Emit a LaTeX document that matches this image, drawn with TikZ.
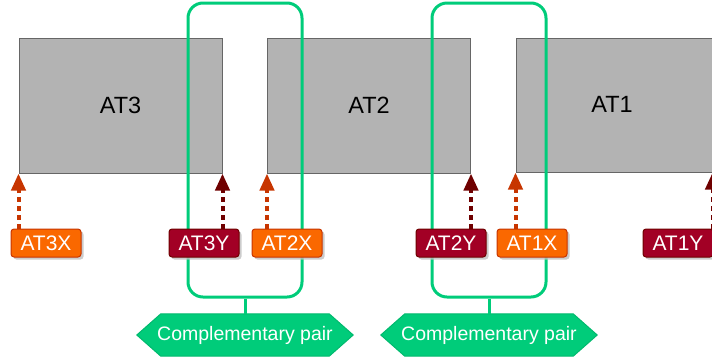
\documentclass[tikz,border=0pt]{standalone}
\usepackage{fontspec}
\setmainfont{Liberation Sans}
\usetikzlibrary{arrows.meta,shadows,backgrounds}
\definecolor{boxfill}{HTML}{B3B3B3}
\definecolor{boxline}{HTML}{666666}
\definecolor{orfill}{HTML}{FA6800}
\definecolor{orline}{HTML}{C73500}
\definecolor{rdfill}{HTML}{A20025}
\definecolor{rdline}{HTML}{6F0000}
\definecolor{pairgreen}{RGB}{0,204,122}
\definecolor{hexline}{RGB}{0,185,110}
\tikzset{
  atbox/.style={rectangle, draw=boxline, fill=boxfill, line width=1pt, inner sep=0pt,
    minimum width=203pt, minimum height=135pt, font=\fontsize{23.5}{27}\selectfont},
  lblbase/.style={rectangle, rounded corners=3pt, line width=1pt, inner sep=0pt,
    minimum width=70pt, minimum height=28pt, text=white, font=\fontsize{21}{24}\selectfont,
    drop shadow={shadow xshift=2.5pt, shadow yshift=-2.5pt, fill=black!25, opacity=0.8}},
  xlbl/.style={lblbase, fill=orfill, draw=orline},
  ylbl/.style={lblbase, fill=rdfill, draw=rdline},
  xarr/.style={draw=orline, line width=4pt, dash pattern=on 5pt off 4pt,
    -{Triangle[length=17pt,width=14pt,fill=orline]}},
  yarr/.style={draw=rdline, line width=4pt, dash pattern=on 5pt off 4pt,
    -{Triangle[length=17pt,width=14pt,fill=rdline]}},
  pairbox/.style={rectangle, draw=pairgreen, line width=3pt, rounded corners=15pt,
    minimum width=114pt, minimum height=294pt, inner sep=0pt},
  pairline/.style={draw=pairgreen, line width=3pt},
  hexlbl/.style={rectangle, minimum width=216pt, minimum height=42pt,
    inner sep=0pt, text=white, font=\fontsize{19.5}{22}\selectfont},
  hexshape/.style={fill=pairgreen, draw=hexline, line width=1pt, line join=miter}
}
\newcommand{\hexaround}[1]{%
  \path[hexshape] (#1.west) -- ([xshift=24pt]#1.north west) -- ([xshift=-24pt]#1.north east)
    -- (#1.east) -- ([xshift=-24pt]#1.south east) -- ([xshift=24pt]#1.south west) -- cycle;}
\begin{document}
\begin{tikzpicture}[x=1pt,y=-1pt]
\useasboundingbox (0,0) rectangle (712,360);
\clip (0,0) rectangle (712,360);
% boxes
\node[atbox] (at3) at (120.5,105.5) {AT3};
\node[atbox] (at2) at (369,105.5) {AT2};
\node[atbox, minimum width=196pt, minimum height=134pt] (at1) at (614,105) {};
\node[font=\fontsize{23.5}{27}\selectfont] (at1t) at (612,104) {AT1};
% pair frames
\node[pairbox] (pair1) at (245,150) {};
\node[pairbox] (pair2) at (489,150) {};
% labels
\node[xlbl] (at3x) at (46,243) {AT3X};
\node[ylbl] (at3y) at (204,243) {AT3Y};
\node[xlbl] (at2x) at (287,243) {AT2X};
\node[ylbl] (at2y) at (451,243) {AT2Y};
\node[xlbl] (at1x) at (532,243) {AT1X};
\node[ylbl] (at1y) at (678,243) {AT1Y};
% arrows
\draw[xarr] (at3x.north -| at3.west) -- (at3.south west);
\draw[yarr] (at3y.north -| at3.east) -- (at3.south east);
\draw[xarr] (at2x.north -| at2.west) -- (at2.south west);
\draw[yarr] (at2y.north -| at2.east) -- (at2.south east);
\draw[xarr] (at1x.north -| at1.west) -- (at1.south west);
\draw[yarr] (at1y.north -| at1.east) -- (at1.south east);
% hexagons
\node[hexlbl] (hex1) at (245,335) {Complementary pair};
\node[hexlbl] (hex2) at (489,335) {Complementary pair};
\begin{scope}[on background layer]
\hexaround{hex1}
\hexaround{hex2}
\end{scope}
\draw[pairline] (pair1.south) -- (hex1.north);
\draw[pairline] (pair2.south) -- (hex2.north);
\end{tikzpicture}
\end{document}
